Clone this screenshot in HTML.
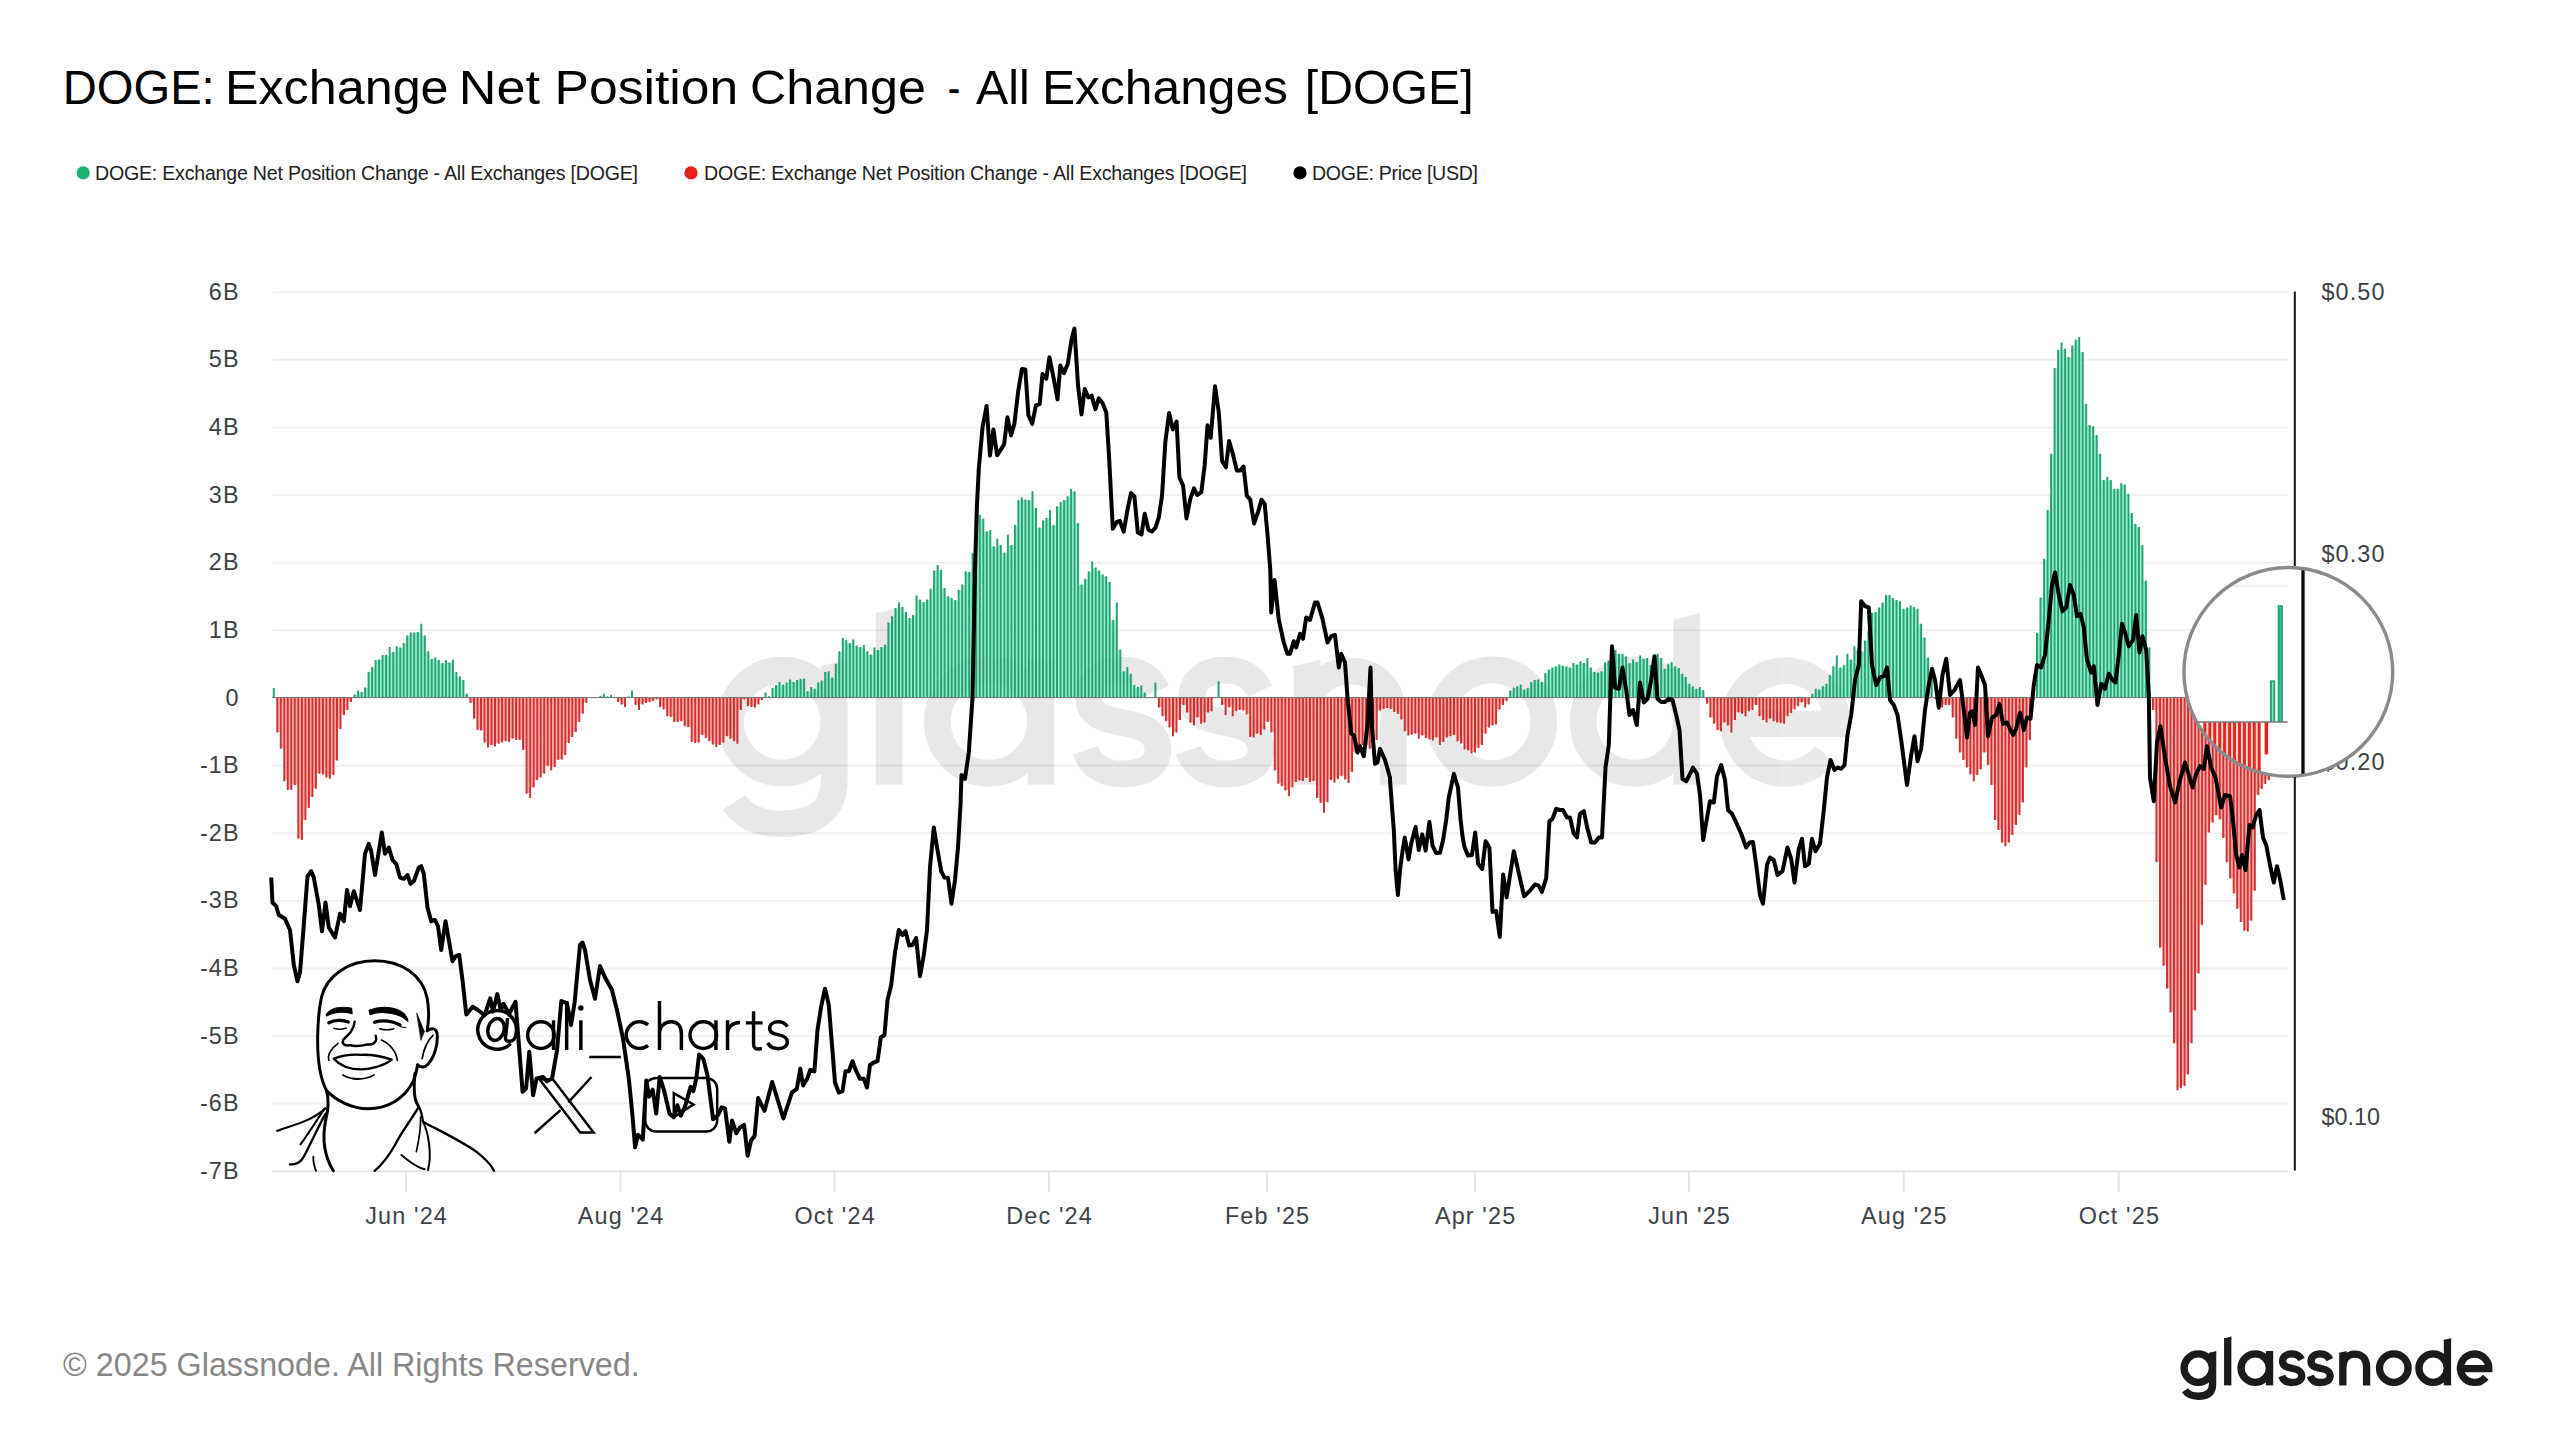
<!DOCTYPE html>
<html><head><meta charset="utf-8"><title>DOGE: Exchange Net Position Change</title>
<style>html,body{margin:0;padding:0;background:#fff;width:2560px;height:1440px;overflow:hidden}</style></head>
<body>
<svg width="2560" height="1440" viewBox="0 0 2560 1440" style="position:absolute;left:0;top:0;font-family:'Liberation Sans',sans-serif">
<rect width="2560" height="1440" fill="#fff"/>
<line x1="272.5" x2="2288" y1="292.2" y2="292.2" stroke="#f0f0f0" stroke-width="2"/>
<line x1="272.5" x2="2288" y1="359.8" y2="359.8" stroke="#f0f0f0" stroke-width="2"/>
<line x1="272.5" x2="2288" y1="427.4" y2="427.4" stroke="#f0f0f0" stroke-width="2"/>
<line x1="272.5" x2="2288" y1="495.1" y2="495.1" stroke="#f0f0f0" stroke-width="2"/>
<line x1="272.5" x2="2288" y1="562.7" y2="562.7" stroke="#f0f0f0" stroke-width="2"/>
<line x1="272.5" x2="2288" y1="630.3" y2="630.3" stroke="#f0f0f0" stroke-width="2"/>
<line x1="272.5" x2="2288" y1="697.9" y2="697.9" stroke="#f0f0f0" stroke-width="2"/>
<line x1="272.5" x2="2288" y1="765.5" y2="765.5" stroke="#f0f0f0" stroke-width="2"/>
<line x1="272.5" x2="2288" y1="833.2" y2="833.2" stroke="#f0f0f0" stroke-width="2"/>
<line x1="272.5" x2="2288" y1="900.8" y2="900.8" stroke="#f0f0f0" stroke-width="2"/>
<line x1="272.5" x2="2288" y1="968.4" y2="968.4" stroke="#f0f0f0" stroke-width="2"/>
<line x1="272.5" x2="2288" y1="1036" y2="1036" stroke="#f0f0f0" stroke-width="2"/>
<line x1="272.5" x2="2288" y1="1103.6" y2="1103.6" stroke="#f0f0f0" stroke-width="2"/>
<line x1="272.5" x2="2288" y1="1171.2" y2="1171.2" stroke="#e4e4e6" stroke-width="2"/>
<line x1="406" x2="406" y1="1171" y2="1192" stroke="#e4e4e6" stroke-width="2"/>
<line x1="620.5" x2="620.5" y1="1171" y2="1192" stroke="#e4e4e6" stroke-width="2"/>
<line x1="834.5" x2="834.5" y1="1171" y2="1192" stroke="#e4e4e6" stroke-width="2"/>
<line x1="1049" x2="1049" y1="1171" y2="1192" stroke="#e4e4e6" stroke-width="2"/>
<line x1="1267" x2="1267" y1="1171" y2="1192" stroke="#e4e4e6" stroke-width="2"/>
<line x1="1475" x2="1475" y1="1171" y2="1192" stroke="#e4e4e6" stroke-width="2"/>
<line x1="1689" x2="1689" y1="1171" y2="1192" stroke="#e4e4e6" stroke-width="2"/>
<line x1="1903.75" x2="1903.75" y1="1171" y2="1192" stroke="#e4e4e6" stroke-width="2"/>
<line x1="2118.75" x2="2118.75" y1="1171" y2="1192" stroke="#e4e4e6" stroke-width="2"/>
<symbol id="wm" overflow="visible"><g fill="none" stroke="currentColor" stroke-width="52">
<circle cx="272" cy="342" r="101"/><path d="M374 232V455Q374 542 272 542Q205 542 178 500"/><path d="M348 234L400 220V240H348Z" fill="currentColor" stroke="none"/>
<path d="M481.5 128V465"/><path d="M455.5 131L507.5 117V135H455.5Z" fill="currentColor" stroke="none"/>
<circle cx="677" cy="342" r="101"/><path d="M779 220V465"/>
<path d="M1006 282C991 250 965 241 938 241C895 241 872 265 872 295C872 335 915 338 945 345C985 353 1008 365 1008 398C1008 428 980 444 942 444C905 446 877 430 866 398"/>
<path d="M1208 282C1193 250 1167 241 1140 241C1097 241 1074 265 1074 295C1074 335 1117 338 1147 345C1187 353 1210 365 1210 398C1210 428 1182 444 1144 444C1107 446 1079 430 1068 398"/>
<path d="M1274 234L1326 220V240H1274Z" fill="currentColor" stroke="none"/><path d="M1300 232V465M1300 340C1300 275 1335 243 1386 243C1440 243 1469 280 1469 335V465"/>
<circle cx="1662.5" cy="342" r="101.5"/>
<circle cx="1942" cy="342" r="101"/><path d="M2044 140V465"/><path d="M2018 143L2070 129V147H2018Z" fill="currentColor" stroke="none"/>
<path d="M2140 346H2338A101 101 0 1 0 2316 406"/>
</g></symbol>
<use href="#wm" transform="translate(643.3 547.1) scale(0.5105)" color="#000" opacity="0.066"/>
<g fill="none" stroke-linecap="butt">
<path d="M356.3 697.5V695.1M359.8 697.5V692.6M363.3 697.5V692.6M366.8 697.5V688.1M370.3 697.5V672.6M373.9 697.5V667.6M377.4 697.5V660.6M380.9 697.5V660.1M384.4 697.5V655.6M387.9 697.5V655.6M391.4 697.5V652.6M394.9 697.5V652.6M398.4 697.5V648.1M402 697.5V648.1M405.5 697.5V643.6M409 697.5V636.1M412.5 697.5V633.1M416 697.5V633.1M419.5 697.5V632.6M423 697.5V636.1M426.5 697.5V651.9M430.1 697.5V659.4M433.6 697.5V659.4M437.1 697.5V660.6M440.6 697.5V663.6M444.1 697.5V663.6M447.6 697.5V663.1M451.1 697.5V663.1M454.6 697.5V672.6M458.2 697.5V676.9M461.7 697.5V680.6M465.2 697.5V694.4M602.2 697.5V696.4M605.7 697.5V696.9M609.2 697.5V696.9M630.3 697.5V697.1M767.3 697.5V696.9M770.8 697.5V696.9M774.3 697.5V688.6M777.8 697.5V685.6M781.3 697.5V685.1M784.8 697.5V685.1M788.3 697.5V683.1M791.8 697.5V682.6M795.4 697.5V682.6M798.9 697.5V680.6M802.4 697.5V679.4M805.9 697.5V691.9M809.4 697.5V691.9M812.9 697.5V689.4M816.4 697.5V689.4M819.9 697.5V683.1M823.5 697.5V681.1M827 697.5V672.6M830.5 697.5V678.1M834 697.5V678.1M837.5 697.5V664.4M841 697.5V651.9M844.5 697.5V640.6M848 697.5V643.6M851.6 697.5V643.6M855.1 697.5V646.1M858.6 697.5V647.6M862.1 697.5V647.6M865.6 697.5V651.9M869.1 697.5V655.1M872.6 697.5V655.1M876.1 697.5V650.6M879.7 697.5V650.6M883.2 697.5V647.6M886.7 697.5V645.1M890.2 697.5V623.1M893.7 697.5V616.9M897.2 697.5V608.6M900.7 697.5V607.6M904.2 697.5V612.6M907.8 697.5V618.6M911.3 697.5V618.6M914.8 697.5V615.6M918.3 697.5V600.1M921.8 697.5V602.6M925.3 697.5V602.6M928.8 697.5V600.1M932.3 697.5V589.4M935.9 697.5V571.1M939.4 697.5V570.6M942.9 697.5V588.6M946.4 697.5V596.9M949.9 697.5V598.6M953.4 697.5V600.6M956.9 697.5V600.6M960.4 697.5V590.6M964 697.5V585.1M967.5 697.5V572.6M971 697.5V572.6M974.5 697.5V553.6M978 697.5V515.6M981.5 697.5V519.4M985 697.5V531.9M988.5 697.5V531.9M992.1 697.5V546.9M995.6 697.5V546.9M999.1 697.5V545.6M1002.6 697.5V553.1M1006.1 697.5V553.1M1009.6 697.5V545.6M1013.1 697.5V545.6M1016.6 697.5V525.6M1020.2 697.5V500.6M1023.7 697.5V500.1M1027.2 697.5V500.6M1030.7 697.5V500.6M1034.2 697.5V508.6M1037.7 697.5V528.1M1041.2 697.5V528.1M1044.7 697.5V521.1M1048.3 697.5V518.6M1051.8 697.5V525.6M1055.3 697.5V525.6M1058.8 697.5V506.9M1062.3 697.5V502.6M1065.8 697.5V500.6M1069.3 697.5V496.9M1072.8 697.5V491.9M1076.4 697.5V523.6M1079.9 697.5V585.1M1083.4 697.5V585.1M1086.9 697.5V579.4M1090.4 697.5V571.9M1093.9 697.5V568.1M1097.4 697.5V571.1M1100.9 697.5V575.1M1104.5 697.5V576.9M1108 697.5V582.6M1111.5 697.5V620.6M1115 697.5V620.6M1118.5 697.5V650.1M1122 697.5V671.9M1125.5 697.5V671.9M1129 697.5V674.4M1132.6 697.5V685.6M1136.1 697.5V687.6M1139.6 697.5V687.6M1143.1 697.5V693.1M1511.9 697.5V691.1M1515.4 697.5V688.1M1518.9 697.5V686.9M1522.4 697.5V690.1M1526 697.5V690.1M1529.5 697.5V688.6M1533 697.5V682.6M1536.5 697.5V680.6M1540 697.5V682.6M1543.5 697.5V682.6M1547 697.5V673.6M1550.5 697.5V670.1M1554.1 697.5V668.1M1557.6 697.5V666.9M1561.1 697.5V666.1M1564.6 697.5V666.9M1568.1 697.5V668.1M1571.6 697.5V668.1M1575.1 697.5V665.1M1578.6 697.5V665.1M1582.2 697.5V663.6M1585.7 697.5V663.6M1589.2 697.5V668.1M1592.7 697.5V672.6M1596.2 697.5V673.1M1599.7 697.5V673.1M1603.2 697.5V671.9M1606.7 697.5V663.1M1610.3 697.5V661.1M1613.8 697.5V650.6M1617.3 697.5V654.4M1620.8 697.5V654.4M1624.3 697.5V656.9M1627.8 697.5V663.6M1631.3 697.5V663.6M1634.8 697.5V662.6M1638.4 697.5V662.6M1641.9 697.5V659.4M1645.4 697.5V659.4M1648.9 697.5V665.6M1652.4 697.5V665.6M1655.9 697.5V655.6M1659.4 697.5V658.6M1662.9 697.5V669.4M1666.5 697.5V669.4M1670 697.5V664.4M1673.5 697.5V666.9M1677 697.5V668.6M1680.5 697.5V674.4M1684 697.5V677.6M1687.5 697.5V684.4M1691 697.5V686.9M1694.6 697.5V689.4M1698.1 697.5V689.4M1701.6 697.5V690.6M1814 697.5V694.4M1817.5 697.5V690.1M1821 697.5V690.1M1824.5 697.5V686.9M1828 697.5V684.4M1831.5 697.5V675.6M1835.1 697.5V666.9M1838.6 697.5V668.1M1842.1 697.5V668.1M1845.6 697.5V665.6M1849.1 697.5V660.1M1852.6 697.5V660.1M1856.1 697.5V650.6M1859.6 697.5V651.9M1863.2 697.5V651.9M1866.7 697.5V641.1M1870.2 697.5V631.9M1873.7 697.5V613.1M1877.2 697.5V612.6M1880.7 697.5V608.1M1884.2 697.5V603.1M1887.7 697.5V595.6M1891.3 697.5V598.6M1894.8 697.5V600.6M1898.3 697.5V601.9M1901.8 697.5V609.4M1905.3 697.5V609.4M1908.8 697.5V608.1M1912.3 697.5V607.6M1915.8 697.5V609.4M1919.4 697.5V624.4M1922.9 697.5V638.1M1926.4 697.5V658.1M1929.9 697.5V678.1M2038.8 697.5V633.6M2042.3 697.5V598.1M2045.8 697.5V559.4M2049.3 697.5V510.6M2052.8 697.5V454.4M2056.3 697.5V368.6M2059.9 697.5V350.6M2063.4 697.5V349.4M2066.9 697.5V357.6M2070.4 697.5V357.6M2073.9 697.5V346.1M2077.4 697.5V340.1M2080.9 697.5V352.6M2084.4 697.5V404.4M2088 697.5V425.6M2091.5 697.5V426.9M2095 697.5V435.6M2098.5 697.5V454.4M2102 697.5V480.6M2105.5 697.5V480.6M2109 697.5V480.6M2112.5 697.5V489.4M2116.1 697.5V489.4M2119.6 697.5V489.4M2123.1 697.5V485.1M2126.6 697.5V494.4M2130.1 697.5V513.6M2133.6 697.5V524.4M2137.1 697.5V527.6M2140.6 697.5V545.6M2144.2 697.5V581.1M2147.7 697.5V648.1" stroke="#8ef3cd" stroke-width="1.7"/>
<path d="M279 697.5V731.9M282.5 697.5V748.1M286 697.5V780.6M289.6 697.5V789.4M293.1 697.5V784.4M296.6 697.5V784.4M300.1 697.5V838.1M303.6 697.5V819.4M307.1 697.5V807.4M310.6 697.5V796.4M314.1 697.5V788.1M317.7 697.5V773.1M321.2 697.5V773.1M324.7 697.5V773.9M328.2 697.5V776.9M331.7 697.5V774.4M335.2 697.5V759.9M338.7 697.5V728.4M342.2 697.5V714.4M345.8 697.5V709.4M349.3 697.5V701.4M472.2 697.5V702.4M475.7 697.5V718.1M479.2 697.5V729.4M482.7 697.5V729.9M486.3 697.5V741.9M489.8 697.5V744.4M493.3 697.5V744.4M496.8 697.5V743.1M500.3 697.5V741.9M503.8 697.5V740.6M507.3 697.5V740.6M510.8 697.5V738.1M514.4 697.5V738.1M517.9 697.5V739.4M521.4 697.5V739.4M524.9 697.5V749.4M528.4 697.5V793.1M531.9 697.5V786.9M535.4 697.5V779.4M538.9 697.5V776.9M542.5 697.5V773.1M546 697.5V765.6M549.5 697.5V765.6M553 697.5V766.4M556.5 697.5V759.4M560 697.5V758.9M563.5 697.5V754.4M567 697.5V742.4M570.6 697.5V736.4M574.1 697.5V731.4M577.6 697.5V721.4M581.1 697.5V713.1M584.6 697.5V702.4M619.7 697.5V701.4M623.2 697.5V703.9M637.3 697.5V704.4M640.8 697.5V703.9M644.3 697.5V702.4M647.8 697.5V701.4M651.3 697.5V700.4M654.9 697.5V698.9M658.4 697.5V698.9M661.9 697.5V706.4M665.4 697.5V708.9M668.9 697.5V715.6M672.4 697.5V716.4M675.9 697.5V721.4M679.4 697.5V720.6M683 697.5V720.6M686.5 697.5V725.6M690 697.5V726.4M693.5 697.5V741.4M697 697.5V741.9M700.5 697.5V734.4M704 697.5V734.4M707.5 697.5V737.4M711.1 697.5V740.6M714.6 697.5V743.9M718.1 697.5V744.4M721.6 697.5V741.9M725.1 697.5V735.6M728.6 697.5V735.6M732.1 697.5V738.1M735.6 697.5V740.6M739.2 697.5V709.4M742.7 697.5V698.9M746.2 697.5V698.9M749.7 697.5V705.6M753.2 697.5V706.4M756.7 697.5V703.9M760.2 697.5V699.4M1160.7 697.5V706.9M1164.2 697.5V715.6M1167.7 697.5V720.6M1171.2 697.5V726.9M1174.7 697.5V731.9M1178.2 697.5V719.4M1181.7 697.5V704.4M1185.2 697.5V704.4M1188.8 697.5V711.9M1192.3 697.5V721.9M1195.8 697.5V716.9M1199.3 697.5V716.9M1202.8 697.5V721.9M1206.3 697.5V711.9M1209.8 697.5V710.6M1223.9 697.5V704.4M1227.4 697.5V706.9M1230.9 697.5V706.9M1234.4 697.5V710.6M1237.9 697.5V709.4M1241.4 697.5V709.4M1245 697.5V710M1248.5 697.5V713.8M1252 697.5V736.3M1255.5 697.5V733.1M1259 697.5V733.1M1262.5 697.5V728.8M1266 697.5V721.3M1269.5 697.5V721.3M1273.1 697.5V731.9M1276.6 697.5V770M1280.1 697.5V783.1M1283.6 697.5V785.6M1287.1 697.5V790M1290.6 697.5V786.9M1294.1 697.5V781.3M1297.6 697.5V780M1301.2 697.5V780M1304.7 697.5V777.5M1308.2 697.5V777.5M1311.7 697.5V780.4M1315.2 697.5V780.4M1318.7 697.5V797.5M1322.2 697.5V802.5M1325.7 697.5V801.6M1329.3 697.5V779.4M1332.8 697.5V779.4M1336.3 697.5V778.4M1339.8 697.5V775.6M1343.3 697.5V775.6M1346.8 697.5V778.8M1350.3 697.5V771.3M1353.8 697.5V751.9M1357.4 697.5V745.6M1360.9 697.5V744.4M1364.4 697.5V744.4M1367.9 697.5V745.6M1371.4 697.5V743.1M1374.9 697.5V739.4M1378.4 697.5V710M1381.9 697.5V708.4M1385.5 697.5V707.5M1389 697.5V707.5M1392.5 697.5V708.4M1396 697.5V711.3M1399.5 697.5V713.4M1403 697.5V718.8M1406.5 697.5V730.6M1410 697.5V734.1M1413.6 697.5V733.1M1417.1 697.5V733.1M1420.6 697.5V735M1424.1 697.5V735M1427.6 697.5V737.5M1431.1 697.5V738.8M1434.6 697.5V736.9M1438.1 697.5V736.9M1441.7 697.5V741.3M1445.2 697.5V736.9M1448.7 697.5V735.6M1452.2 697.5V734.4M1455.7 697.5V734.4M1459.2 697.5V740.6M1462.7 697.5V742.9M1466.2 697.5V748.8M1469.8 697.5V750M1473.3 697.5V751.9M1476.8 697.5V747.4M1480.3 697.5V744.4M1483.8 697.5V733.1M1487.3 697.5V726.9M1490.8 697.5V724.9M1494.3 697.5V723.9M1497.9 697.5V708.9M1501.4 697.5V704.4M1504.9 697.5V700.6M1708.6 697.5V703.1M1712.1 697.5V716.9M1715.6 697.5V723.1M1719.1 697.5V729.4M1722.7 697.5V721.9M1726.2 697.5V721.9M1729.7 697.5V724.9M1733.2 697.5V719.4M1736.7 697.5V711.9M1740.2 697.5V711.9M1743.7 697.5V713.1M1747.2 697.5V710.6M1750.8 697.5V709.4M1754.3 697.5V704.4M1757.8 697.5V704.4M1761.3 697.5V715.6M1764.8 697.5V719.4M1768.3 697.5V718.1M1771.8 697.5V718.1M1775.3 697.5V720.6M1778.9 697.5V721.9M1782.4 697.5V722.4M1785.9 697.5V715.6M1789.4 697.5V712.4M1792.9 697.5V708.9M1796.4 697.5V705.6M1799.9 697.5V701.9M1803.4 697.5V701.9M1807 697.5V703.9M1936.9 697.5V698.4M1940.4 697.5V706.9M1943.9 697.5V704.4M1947.5 697.5V704.4M1951 697.5V704.4M1954.5 697.5V716.9M1958 697.5V738.1M1961.5 697.5V751.9M1965 697.5V759.4M1968.5 697.5V766.9M1972 697.5V773.9M1975.6 697.5V774.4M1979.1 697.5V768.9M1982.6 697.5V751.9M1986.1 697.5V751.9M1989.6 697.5V764.4M1993.1 697.5V784.4M1996.6 697.5V819.4M2000.1 697.5V829.4M2003.7 697.5V841.9M2007.2 697.5V841.9M2010.7 697.5V834.4M2014.2 697.5V824.4M2017.7 697.5V814.4M2021.2 697.5V801.9M2024.7 697.5V766.9M2028.2 697.5V739.4M2031.8 697.5V699.4M2154.7 697.5V709.4M2158.2 697.5V861.7M2161.7 697.5V947.2M2165.2 697.5V965.1M2168.7 697.5V987.9M2172.3 697.5V1011.8M2175.8 697.5V1042.6M2179.3 697.5V1087.6M2182.8 697.5V1085.3M2186.3 697.5V1073.9M2189.8 697.5V1042.6M2193.3 697.5V1009.8M2196.8 697.5V972.8M2200.4 697.5V924.4M2203.9 697.5V884.5M2207.4 697.5V831.8M2210.9 697.5V821.8M2214.4 697.5V814.7M2217.9 697.5V814.7M2221.4 697.5V819M2224.9 697.5V837.5M2228.5 697.5V861.7M2232 697.5V877.9M2235.5 697.5V893M2239 697.5V908.1M2242.5 697.5V921.5M2246 697.5V930.1M2249.5 697.5V920.1M2253 697.5V890.2M2256.6 697.5V794.4M2260.1 697.5V788.4M2263.6 697.5V783.4M2267.1 697.5V779.4" stroke="#ffa9a6" stroke-width="1.7"/>
<path d="M273.8 697.5V688M354.5 697.5V694.5M358.1 697.5V690.5M361.6 697.5V692M365.1 697.5V687.5M368.6 697.5V672M372.1 697.5V667M375.6 697.5V660M379.1 697.5V659.5M382.6 697.5V655M386.1 697.5V655M389.7 697.5V647M393.2 697.5V652M396.7 697.5V646.2M400.2 697.5V647.5M403.7 697.5V643M407.2 697.5V635.5M410.7 697.5V632.5M414.2 697.5V632.5M417.8 697.5V632M421.3 697.5V623.8M424.8 697.5V635.5M428.3 697.5V651.2M431.8 697.5V658.8M435.3 697.5V657.5M438.8 697.5V660M442.4 697.5V663M445.9 697.5V660M449.4 697.5V662.5M452.9 697.5V659.5M456.4 697.5V672M459.9 697.5V676.2M463.4 697.5V680M466.9 697.5V693.8M600.4 697.5V695.8M603.9 697.5V693.8M607.4 697.5V696.2M611 697.5V695M628.5 697.5V696.5M632 697.5V690.5M765.5 697.5V692.5M769 697.5V696.2M772.5 697.5V688M776 697.5V685M779.5 697.5V682M783.1 697.5V684.5M786.6 697.5V682.5M790.1 697.5V679.5M793.6 697.5V682M797.1 697.5V680M800.6 697.5V678.8M804.1 697.5V678.8M807.6 697.5V691.2M811.2 697.5V687M814.7 697.5V688.8M818.2 697.5V682.5M821.7 697.5V680.5M825.2 697.5V672M828.7 697.5V671.2M832.2 697.5V677.5M835.8 697.5V663.8M839.3 697.5V651.2M842.8 697.5V638M846.3 697.5V640M849.8 697.5V643M853.3 697.5V639.2M856.8 697.5V645.5M860.3 697.5V647M863.9 697.5V645M867.4 697.5V651.2M870.9 697.5V654.5M874.4 697.5V647.5M877.9 697.5V650M881.4 697.5V647M884.9 697.5V644.5M888.4 697.5V622.5M892 697.5V616.2M895.5 697.5V608M899 697.5V602.5M902.5 697.5V607M906 697.5V612M909.5 697.5V618M913 697.5V615M916.5 697.5V595.5M920.1 697.5V599.5M923.6 697.5V602M927.1 697.5V599.5M930.6 697.5V588.8M934.1 697.5V570.5M937.6 697.5V565M941.1 697.5V570M944.6 697.5V588M948.2 697.5V596.2M951.7 697.5V598M955.2 697.5V600M958.7 697.5V590M962.2 697.5V584.5M965.7 697.5V571.2M969.2 697.5V572M972.7 697.5V553M976.2 697.5V513.8M979.8 697.5V515M983.3 697.5V518.8M986.8 697.5V531.2M990.3 697.5V530M993.8 697.5V546.2M997.3 697.5V538.8M1000.8 697.5V545M1004.4 697.5V552.5M1007.9 697.5V534.5M1011.4 697.5V545M1014.9 697.5V525M1018.4 697.5V500M1021.9 697.5V497.5M1025.4 697.5V499.5M1028.9 697.5V500M1032.5 697.5V491.2M1036 697.5V508M1039.5 697.5V527.5M1043 697.5V520.5M1046.5 697.5V518M1050 697.5V510M1053.5 697.5V525M1057 697.5V506.2M1060.6 697.5V502M1064.1 697.5V500M1067.6 697.5V496.2M1071.1 697.5V488.8M1074.6 697.5V491.2M1078.1 697.5V523M1081.6 697.5V584.5M1085.1 697.5V578.8M1088.7 697.5V571.2M1092.2 697.5V561.2M1095.7 697.5V567.5M1099.2 697.5V570.5M1102.7 697.5V574.5M1106.2 697.5V576.2M1109.7 697.5V582M1113.2 697.5V620M1116.8 697.5V602.5M1120.3 697.5V649.5M1123.8 697.5V671.2M1127.3 697.5V667M1130.8 697.5V673.8M1134.3 697.5V685M1137.8 697.5V687M1141.3 697.5V685.5M1144.8 697.5V692.5M1155.4 697.5V682.5M1218.6 697.5V681.2M1510.2 697.5V690.5M1513.7 697.5V687.5M1517.2 697.5V686.2M1520.7 697.5V684.5M1524.2 697.5V689.5M1527.7 697.5V688M1531.2 697.5V682M1534.7 697.5V680M1538.2 697.5V679.5M1541.8 697.5V682M1545.3 697.5V673M1548.8 697.5V669.5M1552.3 697.5V667.5M1555.8 697.5V666.2M1559.3 697.5V664.5M1562.8 697.5V665.5M1566.4 697.5V666.2M1569.9 697.5V667.5M1573.4 697.5V663M1576.9 697.5V664.5M1580.4 697.5V661.2M1583.9 697.5V663M1587.4 697.5V658M1590.9 697.5V667.5M1594.5 697.5V672M1598 697.5V672.5M1601.5 697.5V671.2M1605 697.5V662.5M1608.5 697.5V660.5M1612 697.5V646.2M1615.5 697.5V650M1619 697.5V653.8M1622.6 697.5V653.8M1626.1 697.5V656.2M1629.6 697.5V663M1633.1 697.5V659.5M1636.6 697.5V662M1640.1 697.5V655.5M1643.6 697.5V658.8M1647.1 697.5V658M1650.7 697.5V665M1654.2 697.5V655M1657.7 697.5V653.8M1661.2 697.5V658M1664.7 697.5V668.8M1668.2 697.5V663.8M1671.7 697.5V662M1675.2 697.5V666.2M1678.8 697.5V668M1682.3 697.5V673.8M1685.8 697.5V677M1689.3 697.5V683.8M1692.8 697.5V686.2M1696.3 697.5V688.8M1699.8 697.5V687M1703.3 697.5V690M1812.2 697.5V693.8M1815.7 697.5V688.8M1819.2 697.5V689.5M1822.8 697.5V686.2M1826.3 697.5V683.8M1829.8 697.5V675M1833.3 697.5V666.2M1836.8 697.5V655.5M1840.3 697.5V667.5M1843.8 697.5V665M1847.4 697.5V653.8M1850.9 697.5V659.5M1854.4 697.5V646.2M1857.9 697.5V650M1861.4 697.5V651.2M1864.9 697.5V640.5M1868.4 697.5V631.2M1871.9 697.5V612.5M1875.5 697.5V612M1879 697.5V607.5M1882.5 697.5V602.5M1886 697.5V595M1889.5 697.5V595M1893 697.5V598M1896.5 697.5V600M1900 697.5V601.2M1903.6 697.5V608.8M1907.1 697.5V607.5M1910.6 697.5V605.5M1914.1 697.5V607M1917.6 697.5V608.8M1921.1 697.5V623.8M1924.6 697.5V637.5M1928.1 697.5V657.5M1931.7 697.5V677.5M2037 697.5V633M2040.5 697.5V597.5M2044.1 697.5V558.8M2047.6 697.5V510M2051.1 697.5V453.8M2054.6 697.5V368M2058.1 697.5V350M2061.6 697.5V342.5M2065.1 697.5V348.8M2068.6 697.5V357M2072.2 697.5V345.5M2075.7 697.5V339.5M2079.2 697.5V337M2082.7 697.5V352M2086.2 697.5V403.8M2089.7 697.5V425M2093.2 697.5V426.2M2096.7 697.5V435M2100.2 697.5V453.8M2103.8 697.5V480M2107.3 697.5V477M2110.8 697.5V480M2114.3 697.5V488.8M2117.8 697.5V488.8M2121.3 697.5V483M2124.8 697.5V484.5M2128.4 697.5V493.8M2131.9 697.5V513M2135.4 697.5V523.8M2138.9 697.5V527M2142.4 697.5V545M2145.9 697.5V580.5M2149.4 697.5V647.5" stroke="#27a273" stroke-width="2"/>
<path d="M277.3 697.5V732.5M280.8 697.5V748.8M284.3 697.5V781.2M287.8 697.5V790M291.3 697.5V790M294.8 697.5V785M298.3 697.5V838.8M301.9 697.5V840M305.4 697.5V820M308.9 697.5V808M312.4 697.5V797M315.9 697.5V788.8M319.4 697.5V773.8M322.9 697.5V774.5M326.4 697.5V777.5M329.9 697.5V778.8M333.5 697.5V775M337 697.5V760.5M340.5 697.5V729M344 697.5V715M347.5 697.5V710M351 697.5V702M470.5 697.5V703M474 697.5V718.8M477.5 697.5V730M481 697.5V730.5M484.5 697.5V742.5M488 697.5V747.5M491.5 697.5V745M495 697.5V746.2M498.6 697.5V743.8M502.1 697.5V742.5M505.6 697.5V741.2M509.1 697.5V742M512.6 697.5V738.8M516.1 697.5V740M519.6 697.5V740M523.1 697.5V750M526.6 697.5V793.8M530.2 697.5V798M533.7 697.5V787.5M537.2 697.5V780M540.7 697.5V777.5M544.2 697.5V773.8M547.7 697.5V766.2M551.2 697.5V770.5M554.8 697.5V767M558.3 697.5V760M561.8 697.5V759.5M565.3 697.5V755M568.8 697.5V743M572.3 697.5V737M575.8 697.5V732M579.3 697.5V722M582.9 697.5V713.8M586.4 697.5V703M618 697.5V702M621.5 697.5V704.5M625 697.5V707M635.5 697.5V705M639 697.5V710M642.6 697.5V704.5M646.1 697.5V703M649.6 697.5V702M653.1 697.5V701M656.6 697.5V699.5M660.1 697.5V707M663.6 697.5V709.5M667.2 697.5V716.2M670.7 697.5V717M674.2 697.5V722M677.7 697.5V722M681.2 697.5V721.2M684.7 697.5V726.2M688.2 697.5V727M691.7 697.5V742M695.2 697.5V743M698.8 697.5V742.5M702.3 697.5V735M705.8 697.5V738M709.3 697.5V741.2M712.8 697.5V744.5M716.3 697.5V747M719.8 697.5V745M723.4 697.5V742.5M726.9 697.5V736.2M730.4 697.5V738.8M733.9 697.5V741.2M737.4 697.5V743.8M740.9 697.5V710M744.4 697.5V699.5M747.9 697.5V706.2M751.5 697.5V707M755 697.5V707.5M758.5 697.5V704.5M762 697.5V700M1158.9 697.5V707.5M1162.4 697.5V716.2M1165.9 697.5V721.2M1169.4 697.5V727.5M1173 697.5V736.2M1176.5 697.5V732.5M1180 697.5V720M1183.5 697.5V705M1187 697.5V712.5M1190.5 697.5V722.5M1194 697.5V725M1197.5 697.5V717.5M1201.1 697.5V723.8M1204.6 697.5V722.5M1208.1 697.5V712.5M1211.6 697.5V711.2M1222.1 697.5V705M1225.6 697.5V715M1229.2 697.5V707.5M1232.7 697.5V716.2M1236.2 697.5V711.2M1239.7 697.5V710M1243.2 697.5V710.6M1246.7 697.5V714.4M1250.2 697.5V736.9M1253.7 697.5V737.5M1257.2 697.5V733.8M1260.8 697.5V735M1264.3 697.5V729.4M1267.8 697.5V721.9M1271.3 697.5V732.5M1274.8 697.5V770.6M1278.3 697.5V783.8M1281.8 697.5V786.2M1285.3 697.5V790.6M1288.9 697.5V796.2M1292.4 697.5V787.5M1295.9 697.5V781.9M1299.4 697.5V780.6M1302.9 697.5V781M1306.4 697.5V778.1M1309.9 697.5V781.9M1313.5 697.5V781M1317 697.5V798.1M1320.5 697.5V803.1M1324 697.5V812.8M1327.5 697.5V802.2M1331 697.5V780M1334.5 697.5V782.8M1338 697.5V779M1341.5 697.5V776.2M1345.1 697.5V779.4M1348.6 697.5V783.1M1352.1 697.5V771.9M1355.6 697.5V752.5M1359.1 697.5V746.2M1362.6 697.5V745M1366.1 697.5V746.2M1369.7 697.5V748.8M1373.2 697.5V743.8M1376.7 697.5V740M1380.2 697.5V710.6M1383.7 697.5V709M1387.2 697.5V708.1M1390.7 697.5V709M1394.2 697.5V711.9M1397.8 697.5V714M1401.3 697.5V719.4M1404.8 697.5V731.2M1408.3 697.5V735.6M1411.8 697.5V734.8M1415.3 697.5V733.8M1418.8 697.5V738.8M1422.3 697.5V735.6M1425.9 697.5V738.1M1429.4 697.5V739.4M1432.9 697.5V740.6M1436.4 697.5V737.5M1439.9 697.5V745M1443.4 697.5V741.9M1446.9 697.5V737.5M1450.4 697.5V736.2M1454 697.5V735M1457.5 697.5V741.2M1461 697.5V743.5M1464.5 697.5V749.4M1468 697.5V750.6M1471.5 697.5V753.5M1475 697.5V752.5M1478.5 697.5V748M1482 697.5V745M1485.6 697.5V733.8M1489.1 697.5V727.5M1492.6 697.5V725.5M1496.1 697.5V724.5M1499.6 697.5V709.5M1503.1 697.5V705M1506.6 697.5V701.2M1706.9 697.5V703.8M1710.4 697.5V717.5M1713.9 697.5V723.8M1717.4 697.5V730M1720.9 697.5V731.2M1724.4 697.5V722.5M1727.9 697.5V725.5M1731.4 697.5V732.5M1735 697.5V720M1738.5 697.5V712.5M1742 697.5V713.8M1745.5 697.5V716.2M1749 697.5V711.2M1752.5 697.5V710M1756 697.5V705M1759.5 697.5V716.2M1763.1 697.5V720M1766.6 697.5V722.5M1770.1 697.5V718.8M1773.6 697.5V721.2M1777.1 697.5V722.5M1780.6 697.5V723M1784.1 697.5V723.8M1787.6 697.5V716.2M1791.2 697.5V713M1794.7 697.5V709.5M1798.2 697.5V706.2M1801.7 697.5V702.5M1805.2 697.5V707.5M1808.7 697.5V704.5M1935.2 697.5V699M1938.7 697.5V710M1942.2 697.5V707.5M1945.7 697.5V705M1949.2 697.5V705M1952.7 697.5V717.5M1956.2 697.5V738.8M1959.8 697.5V752.5M1963.3 697.5V760M1966.8 697.5V767.5M1970.3 697.5V774.5M1973.8 697.5V781.2M1977.3 697.5V775M1980.8 697.5V769.5M1984.3 697.5V752.5M1987.9 697.5V765M1991.4 697.5V785M1994.9 697.5V820M1998.4 697.5V830M2001.9 697.5V842.5M2005.4 697.5V846.2M2008.9 697.5V842.5M2012.4 697.5V835M2016 697.5V825M2019.5 697.5V815M2023 697.5V802.5M2026.5 697.5V767.5M2030 697.5V740M2033.5 697.5V700M2152.9 697.5V710M2156.4 697.5V862.3M2160 697.5V947.8M2163.5 697.5V965.7M2167 697.5V988.5M2170.5 697.5V1012.4M2174 697.5V1043.2M2177.5 697.5V1090.2M2181 697.5V1088.2M2184.6 697.5V1085.9M2188.1 697.5V1074.5M2191.6 697.5V1043.2M2195.1 697.5V1010.4M2198.6 697.5V973.4M2202.1 697.5V925M2205.6 697.5V885.1M2209.1 697.5V832.4M2212.7 697.5V822.4M2216.2 697.5V815.3M2219.7 697.5V819.6M2223.2 697.5V838.1M2226.7 697.5V862.3M2230.2 697.5V878.5M2233.7 697.5V893.6M2237.2 697.5V908.7M2240.8 697.5V922.1M2244.3 697.5V930.7M2247.8 697.5V931.5M2251.3 697.5V920.7M2254.8 697.5V890.8M2258.3 697.5V795M2261.8 697.5V789M2265.3 697.5V784M2268.9 697.5V780" stroke="#cf3232" stroke-width="2"/>
</g>
<line x1="272.5" x2="2288" y1="697.5" y2="697.5" stroke="#7d7d7d" stroke-width="1.2"/>
<use href="#wm" transform="translate(643.3 547.1) scale(0.5105)" color="#000" opacity="0.014"/>
<path d="M271.2 877.5L272.5 902.5L276.2 906.2L278.8 915L285 918.8L290 930L293.8 965L297.5 981.2L300 972.5L303.8 925L307.5 876.2L311.2 871.2L313.8 877.5L318.8 905L322 931.2L325.5 902.5L328.8 927.5L335 937.5L340 913.8L343.8 921.2L347 890L350 906.2L353.8 891.2L360 910L365 853.8L368.8 843.8L371.2 851.2L375 875L381.8 832.5L385 853.8L388.8 847.5L392.5 860L396.2 863.8L400 877.5L403.8 878.8L407.5 875L410.5 883.8L413.8 881.2L418.8 867.5L421.2 866.2L423.8 873.8L427.5 907.5L431.2 921.2L435 920L438 926.2L441.2 950L445.5 921.2L448.8 940L452.5 961.2L455.8 956.2L459.2 955L462.5 980L466.3 1014.5L472.7 1006.7L478.3 1010.2L484.6 1015.2L490.2 998.3L493 1011.6L497.3 994.1L500.8 1010.2L503.6 1003.9L509.2 1013.8L515.5 1001.8L519.1 1047.5L522.6 1091.8L526.1 1088.3L529.3 1051.7L533.1 1095.3L536.6 1078.4L543 1077L547.2 1081.3L552.1 1078.4L557 1050.3L561.3 1001.1L566.9 1003.2L571.1 1025L574.6 1002.5L580 945L582.5 942.5L585 950L590 980L595 998.8L600 966L605 977.5L611.9 989.8L617.5 1012.3L623.1 1039.1L628.8 1078.4L632.3 1113.6L635.1 1147.3L637.9 1134.7L642.8 1139.6L646.3 1080.5L649.1 1096.7L652.7 1089.7L656.2 1113.6L659.7 1077L663.9 1089.7L669.5 1113.6L673.8 1117.1L677.3 1105.2L680.8 1115.7L685 1106.6L690.6 1086.9L693.4 1091.1L696.3 1078.4L699.1 1054.5L703.3 1058.8L707.5 1075.6L713.1 1119.2L718.1 1115L721.6 1107.3L725.1 1108.7L729.3 1141.7L732.1 1120.6L736.3 1133.3L739.8 1127.7L744.1 1124.8L747.6 1155.8L751.1 1140.3L754.6 1136.1L758.1 1098.1L764.5 1110.8L772.2 1082L783.4 1118.5L791.9 1092.5L796.8 1089L800.3 1068.6L803.1 1085.5L807.3 1078.4L810.2 1070L814.4 1071.4L816.5 1043.3L817.5 1030L821.2 1006.2L825 988.8L828.8 1005L832 1045L835 1082.5L838.8 1092.5L842.5 1091.2L845.5 1071.2L848.8 1071.2L852.5 1061.2L856.2 1071.2L860 1078.8L863.8 1078.8L867 1087.5L870 1065L873.8 1062.5L877.5 1061.2L880.8 1037.5L884.5 1035L887.5 1000L891.2 985L895 952.5L898.8 930L902.5 935L905.5 931.2L909.2 945.5L912.5 945L916.2 938L920 976.2L923.8 955L927 930L930 867.5L933.8 827.5L937.5 850L941.2 871.2L944.5 877.5L948 878L951.5 903.8L955 880L958 847.5L960.5 805L961.5 775L965 778.8L968.8 752.5L972.5 697.5L975 570L976.9 506.3L978.8 468.8L982.5 427.5L986.6 405.9L990 455.6L993.4 429.4L997.1 455.3L1004.1 444.4L1007.4 417.2L1011 435.4L1014.4 423.8L1018.1 391.9L1021.9 369L1025.3 369.4L1028.4 415.3L1032.2 423.8L1035.9 405.4L1039.7 404.1L1042.5 374.1L1046.3 378.8L1049.4 357.2L1053.8 378.8L1057.5 399.4L1060.3 365.6L1064.1 373.1L1067.8 363.8L1071.6 339.4L1074.4 328.5L1078.1 386.3L1081.5 414.4L1084.7 389.1L1088.4 397.5L1091.6 395.6L1095.4 409.1L1098.8 398.4L1102.5 403.1L1106.3 412.5L1109.1 457.5L1112.8 528.8L1116.6 522.2L1119.8 520.9L1123.7 531.6L1127.8 508.1L1131 493.1L1134.4 496.5L1137.8 532.5L1141.5 534.4L1144.7 513.8L1148.4 529.7L1151.8 531.6L1155.4 527.8L1158.8 517.5L1162.1 495L1165.3 442.5L1169.1 412.9L1172.8 429.4L1176.6 421.5L1179.4 477.2L1183.1 485.6L1186.5 518.4L1190.3 498.8L1194 488.4L1197.2 495L1201.3 492.2L1204.7 465L1207.5 425.3L1210.7 437.8L1215 386.3L1218.8 412.5L1222.1 461.3L1225.9 467.3L1229.1 441L1232.8 453.8L1236.9 470.6L1240.3 470.6L1243.5 466.5L1246.9 495.9L1250.3 499.7L1254 523.5L1258.1 511.9L1261.5 499.7L1264.7 504L1267.5 534.4L1270.3 570L1271.2 612.5L1274.5 580L1278.8 620L1283.8 642.5L1287.5 653.8L1290 653.8L1293.8 641.2L1296.2 647.5L1300 633.8L1303 638.8L1306.2 617.5L1310 620L1315 602.5L1317.5 602.5L1322.5 618.8L1327.5 642.5L1331.2 636.2L1335 635L1338.8 667.5L1341.2 653.8L1345 662.5L1347.5 697.5L1351.2 733.8L1353.8 735L1357.5 752.5L1360 746.2L1363.8 756.2L1367.5 725L1370.5 667.5L1372 727.5L1375 763.8L1377.5 762.5L1380 748.8L1385 760L1390 777.5L1390 780L1393.8 830L1395.6 870L1397.9 895L1400 870L1402.5 851.2L1404.8 837.5L1408.5 859.4L1411.2 843.8L1415.6 826.9L1418.8 850L1422.2 834.4L1425.6 850.6L1429.4 821.9L1432.5 845.6L1436.2 853.1L1440 852.8L1443.1 840L1446.2 820L1448.8 797.5L1453.8 773.8L1458 787.5L1460.6 820L1462.5 836.2L1464.4 846.9L1468.1 855.6L1471.9 855L1475.2 832.5L1478.1 863.8L1482.2 869L1485.6 841.2L1489.4 847.5L1492.5 911.9L1496.2 911L1499.8 936.9L1503.1 874.4L1506.6 897.2L1513.8 851.2L1518.8 873.1L1524.1 896.2L1529.4 891.2L1535 884.4L1538.5 885.6L1541.9 891.9L1546.2 878.1L1548.1 845L1549.4 821.2L1552.5 818.8L1556.2 808.8L1560 810L1563 810L1567 817.5L1570 817.5L1573.8 833.8L1577 837.5L1580 813.8L1583.8 811.2L1587.5 828.8L1591.2 842.5L1595 842.5L1598.8 837.5L1602 837.5L1605.5 767.5L1608.8 745L1612 646.2L1615 687.5L1618.8 688.8L1622.5 667.5L1626.2 690L1629.5 715L1633 710L1636.8 725L1640 682.5L1643.8 702.5L1647.5 698.8L1651.2 680L1654.5 656.2L1657.5 698.8L1661.2 702L1665 702L1668.8 698.8L1672.5 700L1676.2 715L1679.5 730L1682.5 778.8L1686.2 781.2L1689.5 775L1693 767.5L1697 773.8L1700 795L1703.2 840L1706.2 822.5L1710 801.2L1713.8 802.5L1717 776.2L1721.2 765L1725 780L1728 810L1732 813.8L1736.2 822.5L1741.2 833.8L1746.2 847.5L1749.5 842.5L1753 842L1756.2 865L1760 895L1763 903.8L1767 865L1770 857.5L1773.8 860L1777.5 875L1782.5 871.2L1787.5 847.5L1791.2 858.8L1794.5 882.5L1798.8 848.8L1802 838.8L1805 866.2L1808.8 863.8L1812 838.8L1815.5 851.2L1820 843.8L1823.8 810L1827 777.5L1830.5 760L1834.5 770L1837.5 767.5L1841.2 768.8L1844.5 765L1847.5 735L1851.2 715L1855 680L1858.8 665L1861.2 601.2L1865 606.2L1868.8 607.5L1872 665L1876.2 685L1880 677.5L1883.8 676.2L1887 667.5L1890 700L1893.8 705L1897.5 715L1901.2 740L1907 785L1911.2 755L1914.5 736.2L1917.5 761.2L1921.2 748.8L1925 710L1928.8 685L1932 668.8L1935 680L1938.8 707.5L1942.5 675L1946.2 658.8L1950 695L1954.5 690L1960 680L1963.8 710L1967 737.5L1970 712.5L1972.5 711.2L1975 725L1978 667.5L1981.2 675L1985 685L1988 736.2L1992 717.5L1996.2 715L1999.5 703.8L2003 723.8L2007 722.5L2013 735L2016.2 728.8L2020 712.5L2023.8 730L2027 717.5L2030.5 718.8L2033.8 685L2037 665L2041.2 667.5L2045 655L2048.8 620L2052 585L2055 572.5L2058.8 595L2062.5 611.2L2066.2 607.5L2070 585L2073.8 595L2077 616.2L2080.5 613.8L2083.8 627.5L2087 660L2091.2 672.5L2093.8 666.2L2097.5 705L2101.2 683.8L2105 688.8L2108.8 673.8L2112.5 680L2115.5 682.5L2118.8 655L2122 623.8L2125 632.5L2128.8 646.2L2133 640L2136.2 615L2139.5 652.5L2142.5 636.2L2146.2 650L2148.8 695L2150 777.5L2153.8 801.2L2157 742.5L2160.5 726.2L2165 757.5L2170 786.2L2175 802.5L2180 780L2185 762.5L2188.8 775L2192.5 787.5L2196.2 773.8L2200 766.2L2203.8 768.8L2207 746.2L2211.2 767.5L2215.5 777.5L2218.8 795L2221.2 807.5L2225 795L2230 796.2L2232.5 815L2236.2 855L2239.5 867.5L2242 855L2245.5 870L2249.5 825L2252.5 827.5L2256.2 815L2259.5 810L2263 837.5L2266.2 845L2270 865L2273.8 882.5L2277 866.2L2280 878.8L2283.8 900" fill="none" stroke="#000" stroke-width="4" stroke-linejoin="round" stroke-linecap="butt"/>
<g transform="translate(268 940) scale(0.16667)" fill="none" stroke="#000" stroke-width="18" stroke-linecap="round" stroke-linejoin="round">
<path d="M352 905C366 960 362 1020 346 1080C322 1200 340 1300 392 1385L640 1385C690 1340 730 1290 765 1225C800 1150 860 1080 898 1000C876 960 874 880 880 810C840 950 720 1012 600 1012C500 1012 410 962 352 905Z" fill="#fff" stroke="none"/>
<path d="M352 905C312 830 296 700 298 580C300 470 308 400 322 340C352 215 480 125 640 125C800 125 928 210 955 350C968 420 966 480 955 545C990 520 1012 535 1015 565C1020 625 1000 700 960 745C940 766 915 768 898 748C892 790 884 815 870 850C820 950 720 1012 600 1012C500 1012 410 962 352 905Z" fill="#fff"/>
<path d="M352 905C366 960 362 1020 346 1080C322 1200 340 1300 392 1385"/>
<path d="M882 800C874 880 876 960 900 992"/>
<path d="M990 572C960 600 935 650 925 712" stroke-width="11"/>
<path d="M893 440L938 548L918 600Z" fill="#000" stroke-width="4"/>
<path d="M348 447C380 405 440 395 502 410L505 442C450 428 395 432 352 456Z" fill="#000" stroke-width="6"/>
<path d="M606 422C680 392 770 400 815 440C830 455 838 470 840 488C810 455 760 440 700 436C665 434 635 440 612 448Z" fill="#000" stroke-width="6"/>
<path d="M365 496C400 478 450 478 482 492" stroke-width="20"/>
<path d="M395 530C420 538 450 535 470 528" stroke-width="9"/>
<path d="M640 493C690 478 750 485 792 510" stroke-width="20"/>
<path d="M670 532C700 542 730 540 755 532" stroke-width="9"/>
<path d="M795 520L828 526" stroke-width="6"/>
<path d="M520 490C516 540 482 570 452 598C438 625 465 637 492 631C522 641 560 636 600 626C640 631 657 600 646 574" stroke-width="14.5"/>
<path d="M420 620C380 650 355 690 365 722" stroke-width="10"/>
<path d="M680 600C730 620 770 670 776 722" stroke-width="10"/>
<path d="M395 712C450 690 520 686 560 689C620 686 690 700 742 718C700 752 620 776 560 776C490 776 430 752 395 712Z" stroke-width="14"/>
<path d="M450 810C500 842 580 842 636 810" stroke-width="11"/>
<path d="M55 1145C150 1110 255 1090 345 1010" stroke-width="13"/>
<path d="M340 1012C280 1100 230 1180 195 1226" stroke-width="12"/>
<path d="M132 1346C200 1352 215 1300 250 1230C290 1150 322 1082 346 1042" stroke-width="14"/>
<path d="M272 1300C270 1335 278 1360 288 1385" stroke-width="11"/>
<path d="M900 992C920 1020 926 1060 930 1090C1000 1130 1150 1200 1250 1270C1300 1310 1340 1350 1356 1385" stroke-width="14"/>
<path d="M905 1000C860 1080 800 1150 762 1230C722 1300 682 1350 640 1385" stroke-width="14"/>
<path d="M800 1290C840 1320 880 1360 940 1376" stroke-width="12"/>
<path d="M930 1090C960 1150 986 1280 960 1380" stroke-width="12"/>
<path d="M916 1062C916 1130 906 1200 890 1270" stroke-width="10"/>
</g>
<g transform="translate(470 990) scale(0.1289)" fill="none" stroke="#000" stroke-width="27" stroke-linejoin="round">
<path d="M316 416A150 150 0 1 1 358 336Q352 394 308 398Q272 400 275 366L292 218"/>
<ellipse cx="202" cy="306" rx="62" ry="86" transform="rotate(14 202 306)"/>
<circle cx="550" cy="350" r="103"/><path d="M648 235V465"/>
<path d="M750 85V465"/>
<path d="M860 235V465"/><circle cx="860" cy="140" r="21" fill="#000" stroke="none"/>
<path d="M925 520H1170" stroke-width="20"/>
<path d="M1381 271A103 103 0 1 0 1381 429"/>
<path d="M1470 85V465M1470 340C1470 280 1510 247 1560 247C1615 247 1640 285 1640 340V465"/>
<circle cx="1810" cy="350" r="103"/><path d="M1908 235V465"/>
<path d="M1998 235V465M1998 345C1998 290 2035 250 2095 252"/>
<path d="M2200 165V420Q2200 460 2240 458L2264 454M2140 255H2270"/>
<path d="M2462 285C2445 255 2420 247 2392 247C2352 247 2325 268 2325 298C2325 335 2365 342 2395 348C2435 356 2462 368 2462 402C2462 436 2432 455 2392 455C2355 455 2325 440 2310 410"/>
</g>
<g fill="none" stroke="#000" stroke-width="2.5" stroke-linejoin="miter">
<path d="M539.5 1079.2H552.8L593.6 1132.6H580.2Z"/>
<path d="M591.5 1077L568.3 1102.3M560.5 1110.1L534.5 1133.3"/>
<rect x="645.2" y="1078" width="72" height="53.6" rx="11" ry="11"/>
<path d="M673.8 1093.2V1117.1L693.4 1104.5Z"/>
</g>

<text x="2321.5" y="769.6" font-size="23.4" letter-spacing="1.1" fill="#3e4248">$0.20</text>
<defs><clipPath id="cc"><circle cx="2288.3" cy="671.9" r="104.4"/></clipPath></defs>
<circle cx="2288.3" cy="671.9" r="104.4" fill="#fff"/>
<g clip-path="url(#cc)">
<line x1="2180" x2="2287.5" y1="586" y2="586" stroke="#efefef" stroke-width="2.4"/>
<rect x="2203.4" y="722" width="57.2" height="70" fill="#ffd0cb"/>
<path d="M2204.8 722V800M2209.8 722V800M2214.7 722V800M2219.7 722V800M2224.6 722V800M2229.6 722V800M2234.5 722V800M2239.5 722V800M2244.4 722V800M2249.4 722V800M2254.3 722V800M2259.2 722V800" stroke="#e6271d" stroke-width="2.9" fill="none"/>
<rect x="2264.6" y="722" width="3.6" height="32.4" fill="#e6271d"/>
<rect x="2270" y="680.3" width="5.2" height="41.7" fill="#23a876"/><rect x="2272" y="682" width="1.2" height="40" fill="#8fe6c3"/>
<rect x="2277.7" y="605.1" width="5.2" height="116.9" fill="#23a876"/><rect x="2279.8" y="607" width="1" height="115" fill="#4fc597"/>
<line x1="2180" x2="2287.5" y1="722" y2="722" stroke="#777" stroke-width="1.4"/>
<line x1="2303" x2="2303" y1="560" y2="790" stroke="#0a0a0a" stroke-width="3.3"/>
</g>
<circle cx="2288.3" cy="671.9" r="104.4" fill="none" stroke="#8b8b8b" stroke-width="3.4"/>
<line x1="2294.8" x2="2294.8" y1="291.5" y2="566" stroke="#111" stroke-width="2"/>
<line x1="2294.8" x2="2294.8" y1="777" y2="1170.5" stroke="#111" stroke-width="2"/>
<text x="239.6" y="299.8" text-anchor="end" font-size="23.4" letter-spacing="1.1" fill="#3e4248">6B</text>
<text x="239.6" y="367.4" text-anchor="end" font-size="23.4" letter-spacing="1.1" fill="#3e4248">5B</text>
<text x="239.6" y="435" text-anchor="end" font-size="23.4" letter-spacing="1.1" fill="#3e4248">4B</text>
<text x="239.6" y="502.7" text-anchor="end" font-size="23.4" letter-spacing="1.1" fill="#3e4248">3B</text>
<text x="239.6" y="570.3" text-anchor="end" font-size="23.4" letter-spacing="1.1" fill="#3e4248">2B</text>
<text x="239.6" y="637.9" text-anchor="end" font-size="23.4" letter-spacing="1.1" fill="#3e4248">1B</text>
<text x="239.6" y="705.5" text-anchor="end" font-size="23.4" letter-spacing="1.1" fill="#3e4248">0</text>
<text x="239.6" y="773.1" text-anchor="end" font-size="23.4" letter-spacing="1.1" fill="#3e4248">-1B</text>
<text x="239.6" y="840.8" text-anchor="end" font-size="23.4" letter-spacing="1.1" fill="#3e4248">-2B</text>
<text x="239.6" y="908.4" text-anchor="end" font-size="23.4" letter-spacing="1.1" fill="#3e4248">-3B</text>
<text x="239.6" y="976" text-anchor="end" font-size="23.4" letter-spacing="1.1" fill="#3e4248">-4B</text>
<text x="239.6" y="1043.6" text-anchor="end" font-size="23.4" letter-spacing="1.1" fill="#3e4248">-5B</text>
<text x="239.6" y="1111.2" text-anchor="end" font-size="23.4" letter-spacing="1.1" fill="#3e4248">-6B</text>
<text x="239.6" y="1178.9" text-anchor="end" font-size="23.4" letter-spacing="1.1" fill="#3e4248">-7B</text>
<text x="2321.5" y="299.6" font-size="23.4" letter-spacing="1.1" fill="#3e4248">$0.50</text>
<text x="2321.5" y="561.6" font-size="23.4" letter-spacing="1.1" fill="#3e4248">$0.30</text>
<text x="2321.5" y="1124.6" font-size="23.4" letter-spacing="0" fill="#3e4248">$0.10</text>
<text x="406.6" y="1224" text-anchor="middle" font-size="23.4" letter-spacing="1.15" fill="#3e4248">Jun '24</text>
<text x="621.1" y="1224" text-anchor="middle" font-size="23.4" letter-spacing="1.15" fill="#3e4248">Aug '24</text>
<text x="835.1" y="1224" text-anchor="middle" font-size="23.4" letter-spacing="1.15" fill="#3e4248">Oct '24</text>
<text x="1049.6" y="1224" text-anchor="middle" font-size="23.4" letter-spacing="1.15" fill="#3e4248">Dec '24</text>
<text x="1267.6" y="1224" text-anchor="middle" font-size="23.4" letter-spacing="1.15" fill="#3e4248">Feb '25</text>
<text x="1475.6" y="1224" text-anchor="middle" font-size="23.4" letter-spacing="1.15" fill="#3e4248">Apr '25</text>
<text x="1689.6" y="1224" text-anchor="middle" font-size="23.4" letter-spacing="1.15" fill="#3e4248">Jun '25</text>
<text x="1904.35" y="1224" text-anchor="middle" font-size="23.4" letter-spacing="1.15" fill="#3e4248">Aug '25</text>
<text x="2119.35" y="1224" text-anchor="middle" font-size="23.4" letter-spacing="1.15" fill="#3e4248">Oct '25</text>
<g font-size="48" fill="#000" id="title"><text x="62.8" y="104" textLength="151.9" lengthAdjust="spacingAndGlyphs">DOGE:</text><text x="224.9" y="104" textLength="223.7" lengthAdjust="spacingAndGlyphs">Exchange</text><text x="458.8" y="104" textLength="81.2" lengthAdjust="spacingAndGlyphs">Net</text><text x="554.6" y="104" textLength="183.6" lengthAdjust="spacingAndGlyphs">Position</text><text x="749.9" y="104" textLength="176.1" lengthAdjust="spacingAndGlyphs">Change</text><text x="947.8" y="104" textLength="12.5" lengthAdjust="spacingAndGlyphs">-</text><text x="976" y="104" textLength="53.7" lengthAdjust="spacingAndGlyphs">All</text><text x="1041.9" y="104" textLength="246.1" lengthAdjust="spacingAndGlyphs">Exchanges</text><text x="1304.8" y="104" textLength="168.8" lengthAdjust="spacingAndGlyphs">[DOGE]</text></g>
<circle cx="83.2" cy="172.9" r="6.6" fill="#1bb370"/>
<text x="95" y="179.6" font-size="19.6" fill="#222" id="lg1" textLength="543" lengthAdjust="spacing">DOGE: Exchange Net Position Change - All Exchanges [DOGE]</text>
<circle cx="691" cy="172.9" r="6.6" fill="#e8201c"/>
<text x="704" y="179.6" font-size="19.6" fill="#222" id="lg2" textLength="543" lengthAdjust="spacing">DOGE: Exchange Net Position Change - All Exchanges [DOGE]</text>
<circle cx="1300" cy="172.9" r="6.6" fill="#000"/>
<text x="1312" y="179.6" font-size="19.6" fill="#222" id="lg3" textLength="166" lengthAdjust="spacing">DOGE: Price [USD]</text>
<text x="63" y="1376.3" font-size="32.3" fill="#878787" id="foot">© 2025 Glassnode. All Rights Reserved.</text>
<use href="#wm" transform="translate(2160 1320) scale(0.14063)" color="#1b1b1b"/>
</svg>
</body></html>
